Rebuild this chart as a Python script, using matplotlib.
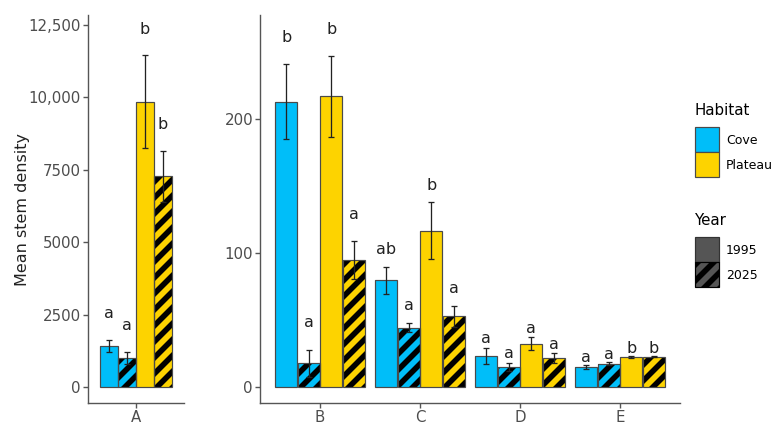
import numpy as np
import matplotlib
matplotlib.use('Agg')
import matplotlib.pyplot as plt
from matplotlib.patches import Patch

# Valores (media y error estandar por sitio)
sites = ['A', 'B', 'C', 'D', 'E']
cove_1995 = [1420, 213, 80, 23.5, 15.4]
cove_1995_se = [220, 28, 10, 6, 1.5]
cove_2025 = [1010, 18, 44.5, 15.5, 17.6]
cove_2025_se = [200, 10, 3.5, 3, 1]
plateau_1995 = [9850, 217, 117, 32.5, 22.6]
plateau_1995_se = [1600, 30, 21, 5, 1]
plateau_2025 = [7270, 95, 53, 22, 22.9]
plateau_2025_se = [880, 14, 8, 3.5, 0.5]

cove_1995_lab = ['a', 'b', 'ab', 'a', 'a']
cove_2025_lab = ['a', 'a', 'a', 'a', 'a']
plateau_1995_lab = ['b', 'b', 'b', 'a', 'b']
plateau_2025_lab = ['b', 'a', 'a', 'a', 'b']

left_ticks = [0, 2500, 5000, 7500, 10000, 12500]
left_ticklabels = ['0', '2500', '5000', '7500', '10,000', '12,500']
right_ticks = [0, 100, 200]

COVE = '#00BEF9'
PLATEAU = '#FDD300'
EDGE = '#4a4a4a'
TXT = '#4d4d4d'

# tamaños pensados en pixeles, convertidos a puntos
DPI = 96
PT = 72 / DPI

plt.rcParams['font.family'] = ['DejaVu Sans']
plt.rcParams['hatch.linewidth'] = 5.6 * PT

series = [
    (cove_1995, cove_1995_se, cove_1995_lab, COVE, False),
    (cove_2025, cove_2025_se, cove_2025_lab, COVE, True),
    (plateau_1995, plateau_1995_se, plateau_1995_lab, PLATEAU, False),
    (plateau_2025, plateau_2025_se, plateau_2025_lab, PLATEAU, True),
]

fig = plt.figure(figsize=(773 / DPI, 425 / DPI), dpi=DPI)
ax_l = fig.add_axes([88 / 773, 22 / 425, 96 / 773, 388 / 425])
ax_r = fig.add_axes([260 / 773, 22 / 425, 420 / 773, 388 / 425])

width = 0.9 / 4
offsets = (np.arange(4) - 1.5) * width


def draw_panel(ax, idx, pad_px):
    x = np.arange(1, len(idx) + 1)
    ylo, yhi = ax.get_ylim()
    ax_h = ax.get_position().height * 425
    unit = (yhi - ylo) / ax_h
    for k, (vals, se, labs, col, striped) in enumerate(series):
        v = np.array([vals[i] for i in idx])
        e = np.array([se[i] for i in idx])
        xs = x + offsets[k]
        ax.bar(xs, v, width * 0.96, color=col, edgecolor='none', zorder=2)
        if striped:
            ax.bar(xs, v, width * 0.96, facecolor='none', edgecolor='black',
                   hatch='//', linewidth=0, zorder=3)
        ax.bar(xs, v, width * 0.96, facecolor='none', edgecolor=EDGE,
               linewidth=1.2 * PT, zorder=4)
        ax.errorbar(xs, v, yerr=e, fmt='none', ecolor='#222222',
                    elinewidth=1.3 * PT, capsize=3 * PT, capthick=1.3 * PT,
                    zorder=5)
        for j, i in enumerate(idx):
            ax.text(xs[j], v[j] + e[j] + pad_px[j] * unit, labs[i],
                    ha='center', va='center', fontsize=16 * PT, color='#222222')
    ax.set_xticks(x)
    ax.set_xticklabels([sites[i] for i in idx])


for ax in (ax_l, ax_r):
    for s in ('top', 'right'):
        ax.spines[s].set_visible(False)
    for s in ('left', 'bottom'):
        ax.spines[s].set_color('#555555')
        ax.spines[s].set_linewidth(1.4 * PT)
    ax.tick_params(colors='#555555', labelcolor=TXT, labelsize=15 * PT,
                   length=5 * PT, width=1.4 * PT, pad=2 * PT)

ax_l.set_xlim(0.4, 1.6)
ax_l.set_ylim(-552, 12845)
ax_l.set_yticks(left_ticks)
ax_l.set_yticklabels(left_ticklabels)
ax_l.set_ylabel('Mean stem density', fontsize=16 * PT, color='#222222',
                labelpad=-1 * PT)

ax_r.set_xlim(0.4, 4.6)
ax_r.set_ylim(-11.7, 277.8)
ax_r.set_yticks(right_ticks)

draw_panel(ax_l, [0], [26])
draw_panel(ax_r, [1, 2, 3, 4], [27, 17, 9, 7.5])

# Leyendas
fs_leg = 12.5
leg_kw = dict(loc='upper left', frameon=False, fontsize=fs_leg * PT,
              title_fontsize=15 * PT, handlelength=24 / fs_leg,
              handleheight=(25 / fs_leg - 0.245) / 0.65, labelspacing=0,
              handletextpad=0.55, borderpad=0, borderaxespad=0,
              alignment='left')
hab = fig.legend(handles=[Patch(facecolor=COVE, edgecolor=EDGE, lw=1.2 * PT),
                          Patch(facecolor=PLATEAU, edgecolor=EDGE, lw=1.2 * PT)],
                 labels=['Cove', 'Plateau'], title='Habitat',
                 bbox_to_anchor=(695 / 773, 1 - 103 / 425), **leg_kw)
hab._legend_box.sep = 7
yr = fig.legend(handles=[Patch(facecolor='#555555', edgecolor='#333333', lw=1.2 * PT),
                         Patch(facecolor='#555555', edgecolor='black', lw=1.2 * PT,
                               hatch='//')],
                labels=['1995', '2025'], title='Year',
                bbox_to_anchor=(695 / 773, 1 - 213 / 425), **leg_kw)
yr._legend_box.sep = 7

fig.savefig('out.png', dpi=DPI)
